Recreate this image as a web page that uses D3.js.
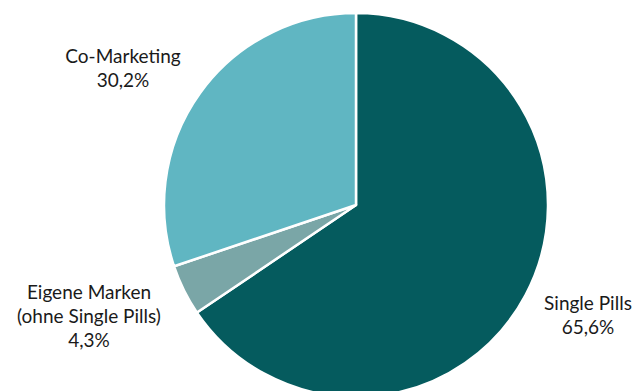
<!DOCTYPE html>
<html><head><meta charset="utf-8">
<script src="https://cdn.jsdelivr.net/npm/d3@7"></script>
<style>html,body{margin:0;padding:0;background:#fff;overflow:hidden}</style>
</head><body><svg id="c" width="641" height="391"></svg>
<script>
const categories = ["Single Pills", "Eigene Marken (ohne Single Pills)", "Co-Marketing"];
const values = [65.6, 4.3, 30.2];
const valueLabels = ["65,6%", "4,3%", "30,2%"];
const labelLines = [["Single Pills"], ["Eigene Marken", "(ohne Single Pills)"], ["Co-Marketing"]];
const colors = ["#055b5e", "#7aa6a7", "#60b6c2"];

const svg = d3.select("#c");
const cx = 356, cy = 205, r = 192;
const pie = d3.pie().sort(null).value(d => d)(values);
const arc = d3.arc().innerRadius(0).outerRadius(r);
const g = svg.append("g").attr("transform", `translate(${cx},${cy})`);
g.selectAll("path").data(pie).join("path")
  .attr("d", arc).attr("fill", (d,i) => colors[i])
  .attr("stroke", "#fff").attr("stroke-width", 2.5).attr("stroke-linejoin","round");

const labelPos = [[588, 310], [89, 299], [123, 63]];
const lh = 24;
labelLines.forEach((lines, i) => {
  const all = lines.concat([valueLabels[i]]);
  const t = svg.append("text").attr("text-anchor", "middle")
    .attr("font-family", "Lato, 'Open Sans', sans-serif")
    .attr("font-size", 19).attr("fill", "#1a1a1a");
  all.forEach((s, j) => t.append("tspan").attr("x", labelPos[i][0]).attr("y", labelPos[i][1] + j*lh).text(s));
});
</script></body></html>
